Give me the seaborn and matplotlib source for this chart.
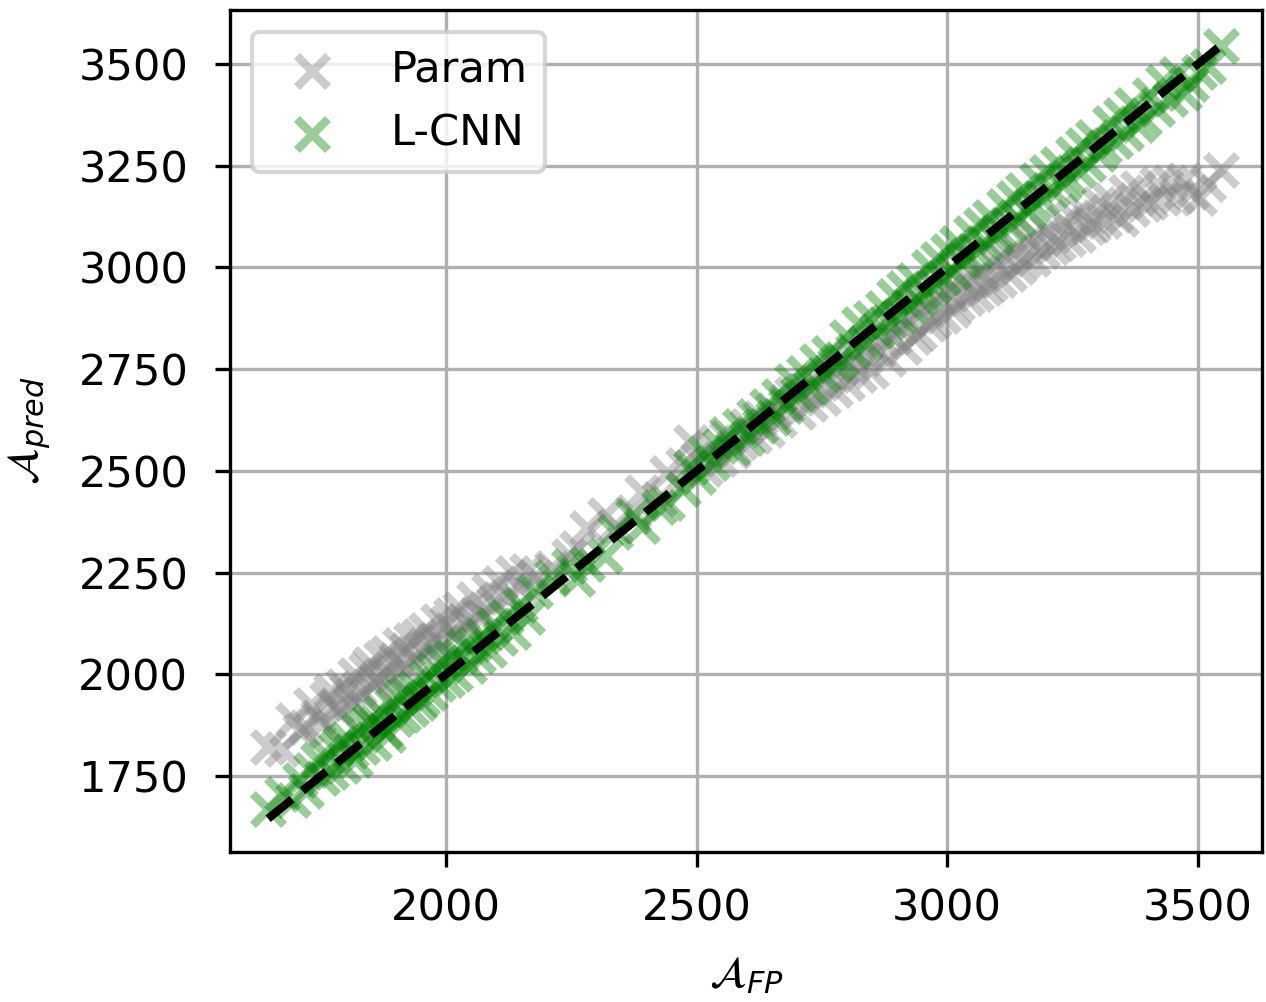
import matplotlib
matplotlib.use("Agg")
import matplotlib.pyplot as plt
import seaborn as sns
import pandas as pd

# Shared x values (A_FP)
a_fp = [
    1645, 1672, 1695, 1708, 1720, 1731, 1744, 1752, 1763, 1771, 1780, 1788, 1795, 1803, 1810, 1818,
    1826, 1833, 1840, 1849, 1856, 1862, 1870, 1878, 1885, 1893, 1900, 1908, 1915, 1922, 1930, 1938,
    1946, 1953, 1961, 1969, 1977, 1984, 1992, 2001, 2010, 2018, 2027, 2036, 2045, 2055, 2064, 2074,
    2085, 2096, 2108, 2120, 2133, 2147,
    2162, 2178, 2211, 2246, 2262, 2281, 2318, 2337, 2374, 2392, 2425, 2441, 2472, 2488,
    2503, 2517, 2531, 2546, 2560, 2573, 2587, 2600, 2614, 2627, 2640, 2653, 2665, 2678, 2690, 2703,
    2715, 2727, 2740, 2752, 2764, 2776, 2788, 2800, 2812, 2824, 2836, 2848, 2860, 2871, 2882, 2893,
    2904, 2914, 2924, 2934, 2944, 2954, 2963, 2973, 2982, 2992, 3001, 3011, 3020, 3030, 3039, 3048,
    3058, 3067, 3076, 3086, 3095, 3104, 3114, 3123, 3133, 3142, 3152, 3161, 3171, 3180, 3190, 3200,
    3210, 3220, 3230, 3240, 3250, 3260, 3270, 3281, 3291, 3302, 3313, 3324, 3335, 3346, 3357, 3369,
    3381, 3393, 3405, 3418, 3431, 3444, 3458, 3472, 3487, 3503, 3521, 3546,
]

# Param predictions
param_pred = [
    1822, 1815, 1888, 1860, 1870, 1925, 1896, 1878, 1940, 1958, 1920, 1905, 1970, 1960, 1930, 1998,
    1965, 1950, 2010, 2025, 1975, 1985, 2040, 2000, 2052, 1995, 2035, 2072, 2020, 2060, 2085, 2030,
    2095, 2060, 2110, 2070, 2085, 2130, 2080, 2125, 2145, 2100, 2160, 2130, 2122, 2185, 2150, 2140,
    2205, 2175, 2225, 2190, 2248, 2215,
    2255, 2240, 2262, 2290, 2310, 2360, 2392, 2365, 2400, 2448, 2430, 2495, 2515, 2570,
    2530, 2505, 2555, 2530, 2580, 2550, 2570, 2610, 2585, 2630, 2600, 2650, 2625, 2670, 2690, 2645,
    2700, 2665, 2720, 2680, 2740, 2700, 2755, 2715, 2768, 2735, 2790, 2745, 2795, 2820, 2775, 2830,
    2850, 2805, 2875, 2830, 2840, 2900, 2860, 2870, 2925, 2880, 2945, 2895, 2910, 2965, 2925, 2970,
    2935, 2990, 2950, 2960, 3010, 2970, 3025, 2985, 3040, 3000, 3015, 3065, 3020, 3075, 3040, 3090,
    3050, 3060, 3110, 3070, 3125, 3080, 3140, 3100, 3105, 3155, 3115, 3165, 3130, 3120, 3185, 3145,
    3195, 3155, 3160, 3205, 3170, 3210, 3175, 3215, 3185, 3170, 3205, 3240,
]

# L-CNN predictions
lcnn_pred = [
    1668, 1705, 1690, 1740, 1712, 1765, 1790, 1745, 1800, 1760, 1815, 1830, 1775, 1840, 1812, 1790,
    1862, 1820, 1875, 1885, 1830, 1880, 1905, 1860, 1850, 1925, 1890, 1945, 1900, 1955, 1915, 1965,
    1930, 1940, 1990, 1955, 2010, 1975, 2030, 1985, 2040, 2000, 2045, 2070, 2020, 2075, 2045, 2095,
    2060, 2120, 2090, 2140, 2105, 2170,
    2140, 2205, 2240, 2265, 2235, 2270, 2290, 2350, 2390, 2365, 2410, 2420, 2455, 2510,
    2485, 2545, 2520, 2560, 2590, 2555, 2610, 2580, 2635, 2610, 2660, 2630, 2685, 2660, 2720, 2690,
    2740, 2705, 2770, 2735, 2790, 2760, 2775, 2830, 2795, 2860, 2815, 2875, 2845, 2900, 2865, 2930,
    2880, 2950, 2905, 2970, 2925, 2940, 3000, 2955, 3020, 2975, 3040, 2990, 3060, 3015, 3030, 3085,
    3040, 3105, 3060, 3125, 3075, 3090, 3150, 3105, 3170, 3120, 3190, 3140, 3155, 3215, 3170, 3235,
    3190, 3255, 3205, 3220, 3280, 3240, 3300, 3255, 3320, 3280, 3295, 3355, 3310, 3375, 3330, 3400,
    3350, 3365, 3425, 3390, 3455, 3415, 3475, 3430, 3450, 3480, 3495, 3544,
]

series_names = ["Param", "L-CNN"]
series_colors = ["gray", "green"]

plt.rcParams["font.size"] = 10.4

fig = plt.figure(figsize=(1266 / 300, 1002 / 300), dpi=300)
ax = fig.add_axes([230 / 1266, 1 - 852 / 1002, (1262 - 230) / 1266, (852 - 10) / 1002])

for name, color, ys in zip(series_names, series_colors, [param_pred, lcnn_pred]):
    df = pd.DataFrame({"x": a_fp, "y": ys})
    sns.scatterplot(data=df, x="x", y="y", marker="x", color=color, alpha=0.4,
                    s=56, linewidth=2.0, label=name, ax=ax, zorder=2)

line_df = pd.DataFrame({"x": [min(a_fp), max(a_fp)], "y": [min(a_fp), max(a_fp)]})
sns.lineplot(data=line_df, x="x", y="y", color="black", linestyle="--", linewidth=2,
             ax=ax, zorder=3, legend=False)

ax.set_xlim(1569, 3628)
ax.set_ylim(1563, 3633)
ax.set_xticks([2000, 2500, 3000, 3500])
ax.set_yticks([1750, 2000, 2250, 2500, 2750, 3000, 3250, 3500])
ax.tick_params(axis="x", pad=5.0)
ax.tick_params(axis="y", pad=6.5)
ax.grid(True, zorder=0)
ax.set_axisbelow(True)
ax.set_xlabel(r"$\mathcal{A}_{FP}$", labelpad=6)
ax.set_ylabel(r"$\mathcal{A}_{pred}$", labelpad=6)
ax.legend(loc="upper left")

fig.savefig("out.png", dpi=300)
